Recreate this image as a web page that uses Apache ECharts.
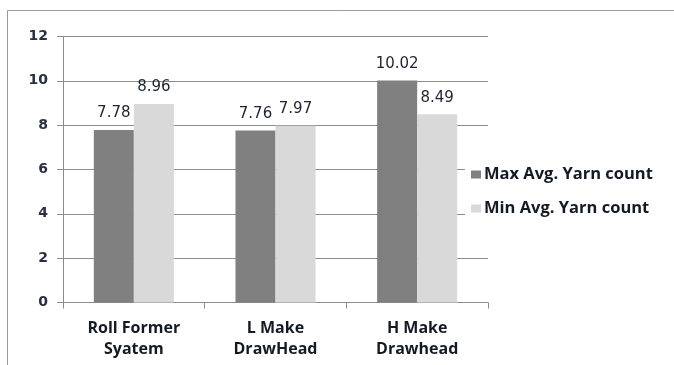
<!DOCTYPE html>
<html>
<head>
<meta charset="utf-8">
<script src="https://cdn.jsdelivr.net/npm/echarts@6/dist/echarts.min.js"></script>
<style>
html,body{margin:0;padding:0;background:#fff;}
#main{width:674px;height:365px;}
</style>
</head>
<body>
<div id="main"></div>
<script>
var categories = ['Roll Former\nSyatem', 'L Make\nDrawHead', 'H Make\nDrawhead'];
var maxCount = [7.78, 7.76, 10.02];
var minCount = [8.96, 7.97, 8.49];
var seriesNames = ['Max Avg. Yarn count', 'Min Avg. Yarn count'];
var yTicks = [0, 2, 4, 6, 8, 10, 12];

var myChart = echarts.init(document.getElementById('main'));
var labelStyle = {show: true, position: 'top', distance: 9, fontFamily: 'DejaVu Sans', fontSize: 15, color: '#1e2430',
	formatter: function(p){ return p.value.toFixed(2); }};
var option = {
	animation: false,
	backgroundColor: '#fff',
	graphic: [{
		type: 'rect',
		shape: {x: 7.5, y: 10.5, width: 700, height: 400},
		style: {fill: 'none', stroke: '#9a9a9a', lineWidth: 1}
	}],
	legend: {
		orient: 'vertical', left: 465, top: 160, padding: [6, 5, 1, 6],
		backgroundColor: '#fff',
		itemWidth: 10, itemHeight: 8, itemGap: 17, icon: 'rect',
		data: seriesNames,
		textStyle: {fontFamily: 'Open Sans', fontWeight: 'bold', fontSize: 16.5, lineHeight: 14, color: '#141a24', padding: [0, 0, 0, -2]}
	},
	grid: {left: 63, right: 186, top: 36.5, bottom: 62.5, containLabel: false},
	xAxis: [{
		type: 'category',
		data: categories,
		axisLine: {lineStyle: {color: '#8c8c8c'}},
		axisTick: {show: true, length: 6, lineStyle: {color: '#8c8c8c'}},
		axisLabel: {fontFamily: 'Open Sans', fontWeight: 'bold', fontSize: 16, color: '#141a24', lineHeight: 21, margin: 15}
	}],
	yAxis: [{
		type: 'value',
		min: yTicks[0],
		max: yTicks[yTicks.length - 1],
		interval: 2,
		axisLine: {show: true, lineStyle: {color: '#8c8c8c'}},
		axisTick: {show: true, length: 6, lineStyle: {color: '#8c8c8c'}},
		axisLabel: {fontFamily: 'DejaVu Sans', fontWeight: 'bold', fontSize: 14, color: '#2a3040', margin: 15},
		splitLine: {show: true, lineStyle: {color: '#8c8c8c'}}
	}],
	series: [
		{
			name: seriesNames[0],
			type: 'bar',
			barGap: '0%',
			barCategoryGap: '43.5%',
			itemStyle: {color: '#808080'},
			label: labelStyle,
			data: maxCount
		},
		{
			name: seriesNames[1],
			type: 'bar',
			itemStyle: {color: '#d9d9d9'},
			label: labelStyle,
			data: minCount
		}
	]
};
myChart.setOption(option);
</script>
</body>
</html>
